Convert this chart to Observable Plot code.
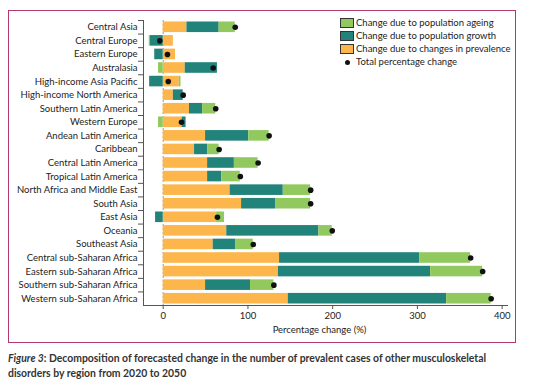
<!DOCTYPE html>
<html>
<head>
<meta charset="utf-8">
<script src="https://cdn.jsdelivr.net/npm/d3@7"></script>
<script src="https://cdn.jsdelivr.net/npm/@observablehq/plot@0.6"></script>
<style>
  html, body { margin: 0; padding: 0; background: #fff; }
  #wrap { position: relative; width: 533px; height: 385px; font-family: Lato, "Liberation Sans", sans-serif; }
  #frame { position: absolute; left: 8px; top: 10px; width: 506px; height: 331px; border: 1.5px solid #b23a6f; }
  #chart { position: absolute; left: 0; top: 0; }
  #legend { position: absolute; left: 340px; top: 17px; font-size: 9.5px; color: #222; line-height: 12.9px; }
  #legend .row { display: flex; align-items: center; height: 12.9px; white-space: nowrap; }
  #legend .sw { width: 12px; height: 8px; border: 1px solid #333; margin-right: 2px; box-sizing: content-box; }
  #legend .dot { width: 5px; height: 5px; border-radius: 50%; background: #111; margin: 0 6px 0 5px; }
  #caption { position: absolute; left: 8px; top: 351px; font-size: 10.4px; line-height: 15px; color: #333; font-weight: bold; white-space: nowrap; }
  #caption i { font-weight: bold; }
</style>
</head>
<body>
<div id="wrap">
  <div id="frame"></div>
  <div id="chart"></div>
  <div id="legend"></div>
  <div id="caption"><i>Figure 3</i>: Decomposition of forecasted change in the number of prevalent cases of other musculoskeletal<br>disorders by region from 2020 to 2050</div>
</div>
<script>
const regions = [
  "Central Asia", "Central Europe", "Eastern Europe", "Australasia", "High-income Asia Pacific",
  "High-income North America", "Southern Latin America", "Western Europe", "Andean Latin America",
  "Caribbean", "Central Latin America", "Tropical Latin America", "North Africa and Middle East",
  "South Asia", "East Asia", "Oceania", "Southeast Asia", "Central sub-Saharan Africa",
  "Eastern sub-Saharan Africa", "Southern sub-Saharan Africa", "Western sub-Saharan Africa"
];
const prevalence = [28, 12, 14.5, 26, 19, 12, 31, 22.4, 50, 37, 52.4, 52.4, 79, 92.5, 63, 75, 59, 137.3, 136, 50, 147.6];
const growth     = [38, -15, -10, 38, -16, 11.6, 15.5, 4.6, 51, 15.4, 31.6, 16.6, 62.7, 40.1, -9, 108.7, 26.4, 165.3, 179.6, 53, 186.9];
const ageing     = [19, -1.5, 0, -5.5, 2, 0, 15.5, -5.5, 24, 13.6, 28, 22, 32.3, 41.4, 9.4, 15.8, 20.9, 60.2, 61.4, 27.6, 52.5];
const total      = [85, -4, 5, 59, 6, 23.6, 62, 21.6, 125, 66, 112, 91, 174, 174, 64, 199.5, 106.3, 362.8, 377, 130.6, 387];
const xTicks = [0, 100, 200, 300, 400];

const components = ["Change due to changes in prevalence", "Change due to population growth", "Change due to population ageing"];
const colors = ["#fcb64c", "#22837b", "#92c95e"];
const legendOrder = ["Change due to population ageing", "Change due to population growth", "Change due to changes in prevalence"];

const series = [prevalence, growth, ageing];
const rows = [];
regions.forEach((r, i) => {
  components.forEach((c, k) => rows.push({region: r, component: c, value: series[k][i]}));
});
const totals = regions.map((r, i) => ({region: r, total: total[i]}));

const W = 533, H = 345, mL = 143, mR = 26, mT = 20, mB = 40;
const step = (H - mT - mB) / regions.length;

const plot = Plot.plot({
  width: W, height: H,
  marginLeft: mL, marginRight: mR, marginTop: mT, marginBottom: mB,
  style: {fontFamily: "Lato, 'Liberation Sans', sans-serif", fontSize: "9.5px", color: "#222", background: "transparent"},
  x: {domain: [-23.25, 406.3], axis: null},
  y: {domain: regions, paddingInner: 0.22, paddingOuter: 0.11, align: 0.5, round: false, axis: null},
  color: {domain: components, range: colors},
  marks: [
    Plot.ruleX([0], {stroke: "#999", strokeDasharray: "2,2", strokeWidth: 1}),
    Plot.barX(rows, {x: "value", y: "region", fill: "component", order: components}),
    Plot.dot(totals, {x: "total", y: "region", r: 2.8, fill: "#111"}),
    Plot.frame({anchor: "left", stroke: "#555"}),
    Plot.frame({anchor: "bottom", stroke: "#555"}),
    Plot.axisY({tickSize: 0, tickPadding: 6, label: null, fill: "#222"}),
    Plot.axisY({tickSize: 5, tickFormat: () => "", dy: -step / 2, label: null, stroke: "#555"}),
    Plot.axisX({ticks: xTicks, tickSize: 4, tickPadding: 3, label: null, stroke: "#555", fill: "#222"}),
    Plot.text(["Percentage change (%)"], {frameAnchor: "bottom", dy: 27, dx: -6, fill: "#222"})
  ]
});
document.getElementById("chart").appendChild(plot);

const legend = document.getElementById("legend");
legendOrder.forEach(name => {
  const row = document.createElement("div");
  row.className = "row";
  const sw = document.createElement("span");
  sw.className = "sw";
  sw.style.background = colors[components.indexOf(name)];
  row.appendChild(sw);
  row.appendChild(document.createTextNode(name));
  legend.appendChild(row);
});
const drow = document.createElement("div");
drow.className = "row";
const d = document.createElement("span");
d.className = "dot";
drow.appendChild(d);
drow.appendChild(document.createTextNode("Total percentage change"));
legend.appendChild(drow);
</script>
</body>
</html>
